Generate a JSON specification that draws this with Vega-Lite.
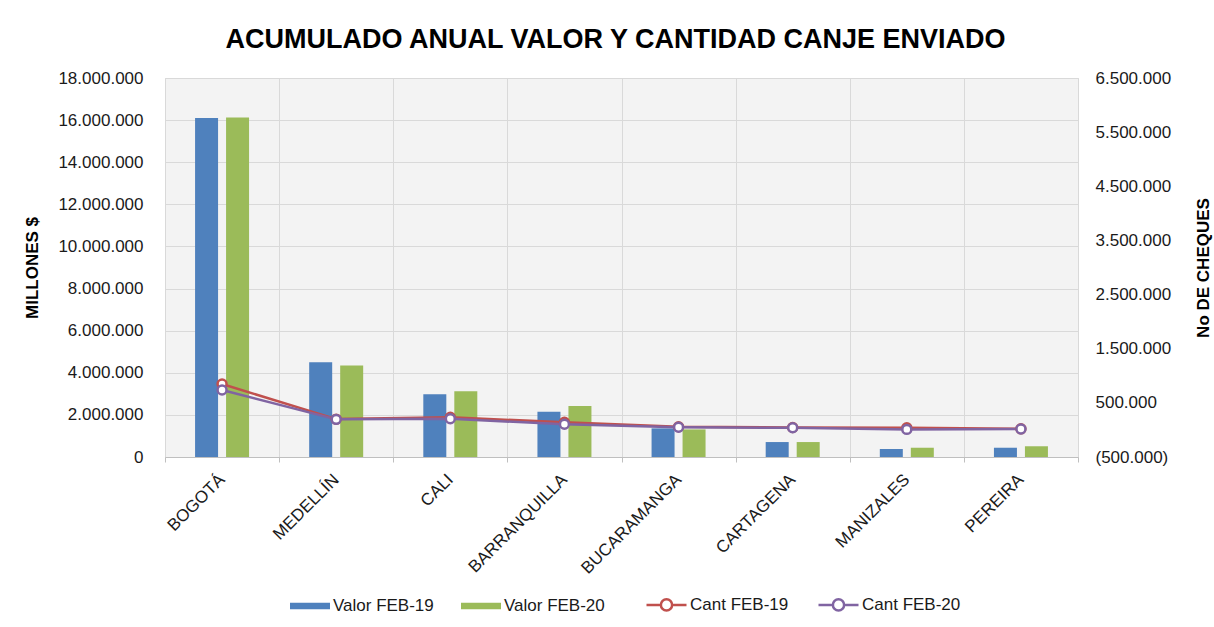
{
  "$schema": "https://vega.github.io/schema/vega-lite/v6.json",
  "width": 913,
  "height": 379,
  "autosize": {"type": "none"},
  "padding": {"left": 165, "top": 78, "right": 136, "bottom": 170},
  "background": "white",
  "config": {
    "font": "Liberation Sans",
    "locale": {"number": {"decimal": ",", "thousands": ".", "grouping": [3], "currency": ["$", ""]}},
    "view": {"fill": "#f3f3f3", "stroke": "#d9d9d9", "strokeWidth": 1},
    "axis": {
      "labelFont": "Liberation Sans",
      "labelFontSize": 17,
      "labelColor": "#1a1a1a",
      "titleFont": "Liberation Sans",
      "titleFontSize": 17,
      "titleFontWeight": "bold",
      "titleColor": "#000000"
    },
    "legend": {
      "labelFont": "Liberation Sans",
      "labelFontSize": 17,
      "labelColor": "#1a1a1a"
    }
  },
  "title": {
    "text": "ACUMULADO ANUAL  VALOR Y CANTIDAD CANJE ENVIADO",
    "font": "Liberation Sans",
    "fontSize": 27,
    "fontWeight": "bold",
    "color": "#000000",
    "anchor": "middle",
    "frame": "group",
    "baseline": "alphabetic",
    "offset": 29,
    "dx": -6,
    "dy": 35
  },
  "datasets": {
    "valores": [
      {"ciudad": "BOGOTÁ", "serie": "Valor FEB-19", "valor": 16100000},
      {"ciudad": "BOGOTÁ", "serie": "Valor FEB-20", "valor": 16120000},
      {"ciudad": "MEDELLÍN", "serie": "Valor FEB-19", "valor": 4500000},
      {"ciudad": "MEDELLÍN", "serie": "Valor FEB-20", "valor": 4350000},
      {"ciudad": "CALI", "serie": "Valor FEB-19", "valor": 2980000},
      {"ciudad": "CALI", "serie": "Valor FEB-20", "valor": 3120000},
      {"ciudad": "BARRANQUILLA", "serie": "Valor FEB-19", "valor": 2150000},
      {"ciudad": "BARRANQUILLA", "serie": "Valor FEB-20", "valor": 2420000},
      {"ciudad": "BUCARAMANGA", "serie": "Valor FEB-19", "valor": 1360000},
      {"ciudad": "BUCARAMANGA", "serie": "Valor FEB-20", "valor": 1310000},
      {"ciudad": "CARTAGENA", "serie": "Valor FEB-19", "valor": 710000},
      {"ciudad": "CARTAGENA", "serie": "Valor FEB-20", "valor": 710000},
      {"ciudad": "MANIZALES", "serie": "Valor FEB-19", "valor": 380000},
      {"ciudad": "MANIZALES", "serie": "Valor FEB-20", "valor": 440000},
      {"ciudad": "PEREIRA", "serie": "Valor FEB-19", "valor": 440000},
      {"ciudad": "PEREIRA", "serie": "Valor FEB-20", "valor": 510000}
    ],
    "cantidades": [
      {"ciudad": "BOGOTÁ", "serie": "Cant FEB-19", "cant": 848000},
      {"ciudad": "MEDELLÍN", "serie": "Cant FEB-19", "cant": 200000},
      {"ciudad": "CALI", "serie": "Cant FEB-19", "cant": 233000},
      {"ciudad": "BARRANQUILLA", "serie": "Cant FEB-19", "cant": 141000},
      {"ciudad": "BUCARAMANGA", "serie": "Cant FEB-19", "cant": 60000},
      {"ciudad": "CARTAGENA", "serie": "Cant FEB-19", "cant": 45000},
      {"ciudad": "MANIZALES", "serie": "Cant FEB-19", "cant": 40000},
      {"ciudad": "PEREIRA", "serie": "Cant FEB-19", "cant": 20000},
      {"ciudad": "BOGOTÁ", "serie": "Cant FEB-20", "cant": 737000},
      {"ciudad": "MEDELLÍN", "serie": "Cant FEB-20", "cant": 195000},
      {"ciudad": "CALI", "serie": "Cant FEB-20", "cant": 207000},
      {"ciudad": "BARRANQUILLA", "serie": "Cant FEB-20", "cant": 104000},
      {"ciudad": "BUCARAMANGA", "serie": "Cant FEB-20", "cant": 49000},
      {"ciudad": "CARTAGENA", "serie": "Cant FEB-20", "cant": 40000},
      {"ciudad": "MANIZALES", "serie": "Cant FEB-20", "cant": 10000},
      {"ciudad": "PEREIRA", "serie": "Cant FEB-20", "cant": 17000}
    ]
  },
  "layer": [
    {
      "data": {"name": "valores"},
      "mark": {"type": "bar"},
      "encoding": {
        "x": {
          "field": "ciudad",
          "type": "nominal",
          "sort": ["BOGOTÁ", "MEDELLÍN", "CALI", "BARRANQUILLA", "BUCARAMANGA", "CARTAGENA", "MANIZALES", "PEREIRA"],
          "scale": {"paddingInner": 0, "paddingOuter": 0},
          "axis": {
            "title": null,
            "labelAngle": -45,
            "tickBand": "extent",
            "grid": true,
            "gridColor": "#d9d9d9",
            "ticks": true,
            "tickColor": "#bfbfbf",
            "tickSize": 5,
            "domain": true,
            "domainColor": "#bfbfbf",
            "labelPadding": 9,
            "labelOffset": -6
          }
        },
        "xOffset": {
          "field": "serie",
          "type": "nominal",
          "scale": {"domain": ["Valor FEB-19", "Valor FEB-20"], "paddingInner": 0.258, "paddingOuter": 0.97}
        },
        "y": {
          "field": "valor",
          "type": "quantitative",
          "scale": {"domain": [0, 18000000], "nice": false},
          "axis": {
            "title": "MILLONES $",
            "values": [0, 2000000, 4000000, 6000000, 8000000, 10000000, 12000000, 14000000, 16000000, 18000000],
            "format": ",.0f",
            "grid": true,
            "gridColor": "#d9d9d9",
            "ticks": false,
            "domain": false,
            "labelPadding": 22,
            "titlePadding": 16
          }
        },
        "color": {
          "field": "serie",
          "type": "nominal",
          "scale": {
            "domain": ["Valor FEB-19", "Valor FEB-20"],
            "range": ["#4F81BD", "#9BBB59"]
          },
          "legend": {
            "orient": "none",
            "legendX": 125,
            "legendY": 508,
            "direction": "horizontal",
            "columns": 2,
            "title": null,
            "padding": 0,
            "labelOffset": 3,
            "columnPadding": 27,
            "symbolType": "M-1,-0.16H1V0.16H-1Z",
            "symbolSize": 1600,
            "symbolStrokeWidth": 0
          }
        }
      }
    },
    {
      "data": {"name": "cantidades"},
      "encoding": {
        "x": {
          "field": "ciudad",
          "type": "nominal",
          "sort": ["BOGOTÁ", "MEDELLÍN", "CALI", "BARRANQUILLA", "BUCARAMANGA", "CARTAGENA", "MANIZALES", "PEREIRA"]
        },
        "y": {
          "field": "cant",
          "type": "quantitative",
          "scale": {"domain": [-500000, 6500000], "nice": false, "zero": false},
          "axis": {
            "orient": "right",
            "title": "No DE CHEQUES",
            "values": [-500000, 500000, 1500000, 2500000, 3500000, 4500000, 5500000, 6500000],
            "format": "(,.0f",
            "grid": false,
            "ticks": false,
            "domain": false,
            "labelPadding": 17,
            "titleAngle": 270,
            "titleBaseline": "top",
            "titlePadding": 25
          }
        },
        "stroke": {
          "field": "serie",
          "type": "nominal",
          "scale": {
            "domain": ["Cant FEB-19", "Cant FEB-20"],
            "range": ["#C0504D", "#8064A2"]
          },
          "legend": {
            "orient": "none",
            "legendX": 480,
            "legendY": 505,
            "direction": "horizontal",
            "columns": 2,
            "title": null,
            "padding": 0,
            "labelOffset": 2,
            "columnPadding": 24,
            "symbolType": "M-1,0H-0.28M0.28,0H1M0.28,0A0.28,0.28 0 1,1 -0.28,0A0.28,0.28 0 1,1 0.28,0",
            "symbolSize": 1600,
            "symbolFillColor": "#ffffff",
            "symbolStrokeWidth": 2.5,
            "symbolOpacity": 1
          }
        }
      },
      "layer": [
        {"mark": {"type": "line", "strokeWidth": 2.5}},
        {"mark": {"type": "point", "filled": false, "fill": "white", "size": 80, "strokeWidth": 2.5, "opacity": 1}}
      ]
    }
  ],
  "resolve": {"scale": {"y": "independent"}}
}
